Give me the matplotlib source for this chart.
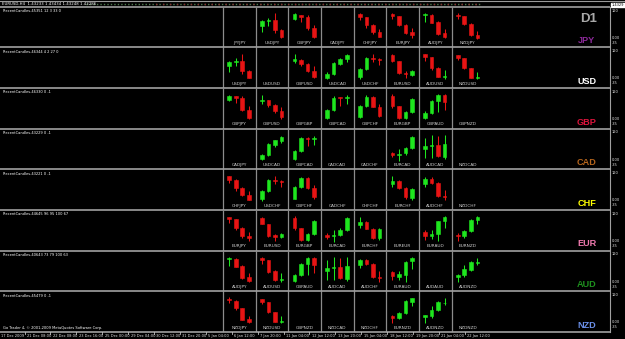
import matplotlib
matplotlib.use("Agg")
import matplotlib.pyplot as plt

W, H = 625, 339

# ---------------- data ----------------
CURRENCIES = ["JPY", "USD", "GBP", "CAD", "CHF", "EUR", "AUD", "NZD"]
CUR_COLORS = ["#8E2A9C", "#FFFFFF", "#DC143C", "#B5651D", "#FFFF00", "#EE7AAE", "#1E901E", "#6A8FE8"]
PRIORITY = ["EUR", "GBP", "AUD", "NZD", "USD", "CAD", "CHF", "JPY"]
TIMEFRAME = "D1"

# Candles (open, high, low, close) read as depth below cell top (axis inverted)
USDJPY = [(57, 40, 75, 43), (44, 33, 57, 40), (40, 20, 80, 70), (70, 68, 93, 91)]
GBPJPY = [(36, 20, 40, 23), (24, 24, 46, 31), (30, 24, 69, 65), (65, 55, 93, 91)]
CHFJPY = [(21, 20, 41, 31), (32, 30, 64, 56), (56, 53, 81, 77), (77, 66, 92, 91)]
EURJPY = [(21, 20, 38, 27), (27, 27, 59, 55), (55, 52, 83, 79), (77, 65, 93, 84)]
AUDJPY = [(26, 20, 45, 23), (24, 23, 50, 48), (45, 43, 84, 81), (80, 68, 95, 91)]
NZDJPY = [(24, 18, 36, 27), (28, 27, 56, 51), (51, 49, 87, 85), (84, 74, 96, 93)]
GBPUSD = [(40, 20, 48, 36), (37, 35, 56, 51), (51, 48, 74, 70), (70, 57, 93, 88)]
USDCAD = [(91, 75, 94, 79), (80, 44, 82, 47), (50, 33, 54, 35), (36, 21, 43, 24)]
USDCHF = [(88, 62, 94, 66), (66, 29, 68, 32), (33, 20, 44, 36), (36, 32, 52, 39)]
EURUSD = [(23, 21, 43, 41), (41, 41, 81, 78), (76, 71, 92, 81), (82, 68, 85, 71)]
AUDUSD = [(21, 19, 41, 29), (28, 28, 67, 63), (62, 59, 90, 88), (89, 68, 94, 86)]
NZDUSD = [(23, 22, 37, 31), (32, 31, 66, 63), (63, 61, 93, 91), (91, 74, 95, 88)]
GBPCAD = [(90, 63, 93, 67), (67, 25, 69, 29), (28, 26, 53, 31), (30, 21, 48, 27)]
GBPCHF = [(88, 50, 90, 53), (53, 22, 56, 26), (26, 24, 58, 56), (56, 47, 88, 83)]
EURGBP = [(23, 19, 59, 55), (55, 55, 93, 91), (91, 68, 94, 71), (71, 31, 74, 34)]
GBPAUD = [(91, 69, 94, 74), (74, 36, 77, 39), (39, 18, 72, 22), (22, 19, 66, 42)]
EURCAD = [(74, 69, 86, 80), (79, 60, 96, 75), (74, 55, 79, 59), (59, 21, 62, 24)]
AUDCAD = [(61, 28, 89, 53), (53, 19, 89, 50), (50, 22, 85, 82), (84, 20, 92, 45)]
EURCHF = [(45, 20, 54, 35), (35, 32, 58, 56), (56, 53, 88, 83), (85, 55, 91, 58)]
AUDCHF = [(43, 24, 52, 29), (29, 24, 43, 40), (40, 38, 83, 80), (79, 61, 93, 82)]
EURAUD = [(65, 61, 89, 77), (78, 61, 88, 71), (72, 32, 94, 34), (32, 19, 54, 21)]
EURNZD = [(74, 70, 94, 79), (79, 61, 84, 64), (64, 27, 67, 30), (31, 19, 43, 21)]
AUDNZD = [(78, 70, 95, 72), (74, 44, 79, 56), (57, 30, 60, 33), (36, 21, 42, 34)]

PAIRS = {
    "USDJPY": USDJPY, "GBPJPY": GBPJPY, "CHFJPY": CHFJPY, "EURJPY": EURJPY,
    "AUDJPY": AUDJPY, "NZDJPY": NZDJPY, "GBPUSD": GBPUSD, "USDCAD": USDCAD,
    "USDCHF": USDCHF, "EURUSD": EURUSD, "AUDUSD": AUDUSD, "NZDUSD": NZDUSD,
    "GBPCAD": GBPCAD, "GBPCHF": GBPCHF, "EURGBP": EURGBP, "GBPAUD": GBPAUD,
    "EURCAD": EURCAD, "AUDCAD": AUDCAD, "EURCHF": EURCHF, "AUDCHF": AUDCHF,
    "EURAUD": EURAUD, "EURNZD": EURNZD, "AUDNZD": AUDNZD,
}

ROW_CAPTIONS = [
    "RecentCandles-45351 12 3 33 0",
    "RecentCandles-46344 4 2 27 0",
    "RecentCandles-46330 0 -1",
    "RecentCandles-43229 0 -1",
    "RecentCandles-43221 0 -1",
    "RecentCandles-44645 96 95 100 67",
    "RecentCandles-40643 73 79 100 63",
    "RecentCandles-45479 0 -1",
]
TITLE = "EURUSD,H4  1.43233 1.43434 1.43248 1.43286"
PRICE_TAG = "1.4329"
AXIS_LABELS = ["120", "0.00", "-35"]
TIME_LABELS = ["17 Dec 2009", "21 Dec 08:00", "22 Dec 08:00", "23 Dec 16:00", "25 Dec 00:00",
               "29 Dec 04:00", "30 Dec 12:00", "31 Dec 20:00", "5 Jan 04:00", "6 Jan 12:00",
               "7 Jan 20:00", "11 Jan 04:00", "12 Jan 12:00", "13 Jan 20:00", "15 Jan 04:00",
               "18 Jan 12:00", "19 Jan 20:00", "21 Jan 04:00", "22 Jan 12:00"]
FOOTER = "Go Trader 4, \u00a9 2001-2009 MetaQuotes Software Corp."

# ---------------- layout ----------------
TOP = 6.7
ROW_H = 40.66
GRID_X0 = 223.0
CELL_W = 32.65
AXIS_X = 609.5
GREEN = "#1EE61E"
RED = "#E81414"
GRID_COL = "#8C8C8C"

fig = plt.figure(figsize=(W / 100, H / 100), dpi=100, facecolor="black")
bg = fig.add_axes([0, 0, 1, 1])
bg.set_xlim(0, W)
bg.set_ylim(H, 0)
bg.set_facecolor("black")
bg.axis("off")

# title strip
bg.plot([0, W], [0.6, 0.6], color="#9A9A9A", lw=0.8)
bg.text(2, 3.8, TITLE, fontsize=2.8, color="white", va="center", ha="left")
bg.plot([86, 480], [3.6, 3.6], color="#4E7A4E", lw=1.0, ls=(0, (1, 1.5)))
bg.plot([150, 480], [3.6, 3.6], color="#8A3030", lw=1.0, ls=(1, (1, 4)))

def pair_name(a, b):
    if a == b:
        return a + b
    return a + b if PRIORITY.index(a) < PRIORITY.index(b) else b + a

n = len(CURRENCIES)
for r, rc in enumerate(CURRENCIES):
    y0 = TOP + r * ROW_H
    # row separator
    bg.plot([0, AXIS_X], [y0, y0], color="#A0A0A0", lw=1.2, solid_capstyle="butt")
    # caption
    bg.text(3, y0 + 4.2, ROW_CAPTIONS[r], fontsize=2.6, color="white", ha="left", va="center")
    # currency tag
    bg.text(587, y0 + 34, rc, fontsize=6.6, color=CUR_COLORS[r], fontweight="bold",
            family="Liberation Sans", ha="center", va="center")
    # right axis labels
    bg.text(611.5, y0 + 3.8, AXIS_LABELS[0], fontsize=2.6, color="#E0E0E0", ha="left", va="center")
    bg.text(611.5, y0 + 31, AXIS_LABELS[1], fontsize=2.6, color="#E0E0E0", ha="left", va="center")
    bg.text(611.5, y0 + 36, AXIS_LABELS[2], fontsize=2.6, color="#E0E0E0", ha="left", va="center")
    for c, cc in enumerate(CURRENCIES):
        x0 = GRID_X0 + c * CELL_W
        bg.plot([x0, x0], [y0 + 0.6, y0 + ROW_H - 0.6], color=GRID_COL, lw=0.9)
        name = pair_name(rc, cc)
        bg.text(x0 + CELL_W / 2, y0 + 36.4, name, fontsize=3.1, color="#CFCFCF",
                ha="center", va="center")
        data = PAIRS.get(name)
        if not data:
            continue
        ax = fig.add_axes([x0 / W, 1 - (y0 + ROW_H) / H, CELL_W / W, ROW_H / H])
        ax.set_xlim(-0.95, 4.05)
        ax.set_ylim(122, 0)
        ax.axis("off")
        for i, (o, hi, lo, cl) in enumerate(data):
            col = GREEN if cl < o else RED
            ax.vlines(i, hi, lo, color=col, lw=0.75)
            ax.bar(i, cl - o, bottom=o, width=0.55, color=col, edgecolor=col, lw=0.4)

# bottom separator
yb = TOP + n * ROW_H
bg.plot([0, AXIS_X], [yb, yb], color="#A0A0A0", lw=1.2)
bg.text(3, yb - 3.6, FOOTER, fontsize=2.6, color="white", ha="left", va="center")

# D1
bg.text(589, 18.5, TIMEFRAME, fontsize=9.5, color="#A8A8A8", fontweight="bold",
        family="Liberation Sans", ha="center", va="center")

# right axis line + price tag
bg.plot([AXIS_X, AXIS_X], [TOP, yb], color="#A0A0A0", lw=0.8)
bg.add_patch(plt.Rectangle((611, 3.2), 14, 4.2, color="white"))
bg.text(611.8, 5.3, PRICE_TAG, fontsize=2.6, color="black", ha="left", va="center")

# time axis
for k, lab in enumerate(TIME_LABELS):
    xl = 1.0 if k == 0 else 27 + 25.9 * (k - 1)
    if k > 0:
        bg.plot([xl - 2.5, xl - 2.5], [yb, yb + 2.5], color="#C0C0C0", lw=0.6)
    bg.text(xl, yb + 3.6, lab, fontsize=2.6, color="#E0E0E0", ha="left", va="center")

fig.savefig("out.png", dpi=100, facecolor="black")
